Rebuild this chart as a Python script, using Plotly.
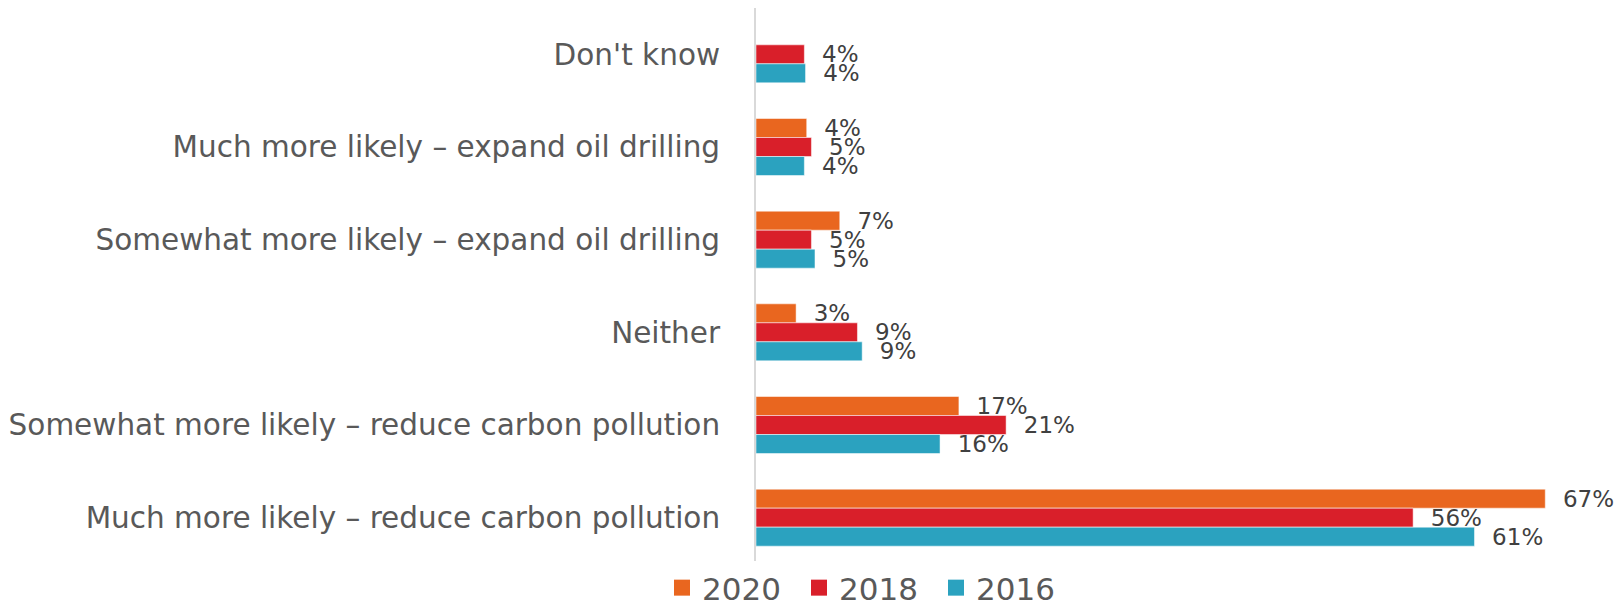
import plotly.graph_objects as go

categories = [
    "Don't know",
    "Much more likely – expand oil drilling",
    "Somewhat more likely – expand oil drilling",
    "Neither",
    "Somewhat more likely – reduce carbon pollution",
    "Much more likely – reduce carbon pollution",
]
years = ["2020", "2018", "2016"]
v2020 = [None, 0.043, 0.071, 0.034, 0.172, 0.669]
v2018 = [0.041, 0.047, 0.047, 0.086, 0.212, 0.557]
v2016 = [0.042, 0.041, 0.050, 0.090, 0.156, 0.609]
colors = ["#E9661F", "#D91F2A", "#2BA2BF"]

FONT = "DejaVu Sans"
fig = go.Figure()
for name, vals, col in zip(years, [v2020, v2018, v2016], colors):
    fig.add_trace(go.Bar(
        y=categories, x=vals, name=name, orientation="h",
        marker=dict(color=col, line=dict(color="rgba(255,255,255,0.5)", width=1)),
        texttemplate="\u00a0\u00a0%{x:.0%}", textposition="outside",
        constraintext="none", cliponaxis=False,
        textfont=dict(family=FONT, size=23, color="#404040"),
        hoverinfo="skip", showlegend=False,
    ))
for name, col in zip(years, colors):
    fig.add_trace(go.Scatter(
        x=[None], y=[None], mode="markers", name=name,
        marker=dict(symbol="square", size=16, color=col),
    ))

L, R, T, B = 756, 1618 - 1550, 8, 41
fig.update_layout(
    width=1618, height=605,
    margin=dict(l=L, r=R, t=T, b=B, pad=0, autoexpand=False),
    barmode="group", bargap=0.385, bargroupgap=0,
    plot_bgcolor="white", paper_bgcolor="white",
    font=dict(family=FONT, color="#595959"),
    showlegend=True,
    legend=dict(orientation="h", xref="container", yref="container",
                x=662 / 1618, xanchor="left",
                y=(605 - 588) / 605, yanchor="middle",
                font=dict(family=FONT, size=31, color="#595959"),
                itemsizing="trace", itemwidth=30, entrywidth=92,
                tracegroupgap=0),
    xaxis=dict(range=[0, 0.673], showgrid=False, zeroline=False,
               showticklabels=False, ticks=""),
    yaxis=dict(autorange="reversed", showline=True, linecolor="#D9D9D9",
               linewidth=2, ticks="", ticklabelstandoff=28,
               tickfont=dict(family=FONT, size=29.5, color="#595959")),
)
fig.write_html("out.html", config={"displayModeBar": False},
               post_script="document.body.style.margin='0px';document.body.style.overflow='hidden';")
